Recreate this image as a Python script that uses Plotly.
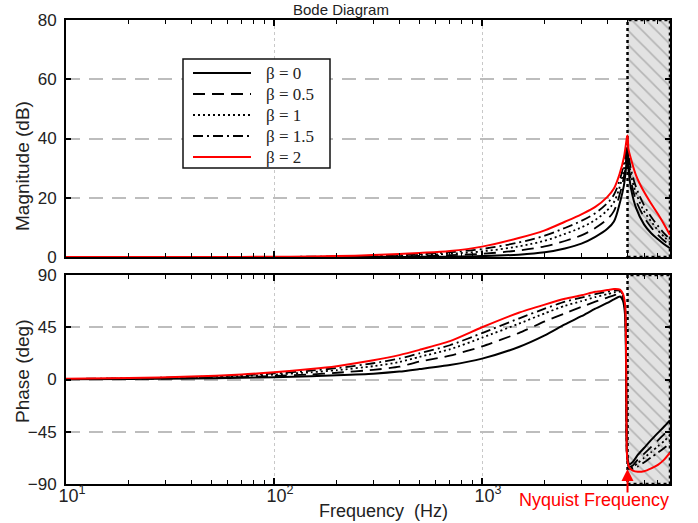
import numpy as np
import plotly.graph_objects as go
from plotly.subplots import make_subplots

# Frequency grids (Hz): below Nyquist, and from Nyquist to the upper plot limit
freq_pre = [10, 20, 40, 70, 100, 150, 200, 300, 400, 500, 700, 1000, 1500, 2000,
            2500, 3000, 3500, 4000, 4300, 4600, 4800, 4900, 4970, 5000]
freq_post = [5000, 5050, 5200, 5500, 6000, 6500, 7000, 7500, 8000]

betas = ["0", "0.5", "1", "1.5", "2"]

# Magnitude (dB) below Nyquist
mag_pre = {
    "0":   [0, 0, 0, 0, 0, 0, 0, 0.02, 0.03, 0.05, 0.1, 0.3, 0.8, 1.6, 2.9, 4.5, 6.8, 9.5, 12, 18.5, 24, 29, 34, 36],
    "0.5": [0, 0, 0, 0, 0, 0.02, 0.05, 0.12, 0.2, 0.35, 0.6, 1.1, 2.2, 3.6, 5.4, 7.3, 9.8, 12.8, 15.5, 21.5, 27, 31.5, 36, 37.5],
    "1":   [0, 0, 0, 0, 0.02, 0.05, 0.1, 0.25, 0.45, 0.7, 1.1, 1.9, 3.6, 5.5, 7.8, 10, 12.5, 15.8, 18.5, 24, 29.5, 33.5, 37.5, 39],
    "1.5": [0, 0, 0, 0.01, 0.04, 0.1, 0.2, 0.45, 0.75, 1.0, 1.6, 2.7, 4.9, 7.2, 9.8, 12.2, 14.8, 18.2, 21, 26.3, 31.5, 35.5, 39, 40],
    "2":   [0, 0, 0.01, 0.03, 0.07, 0.15, 0.3, 0.65, 1.0, 1.35, 2.0, 3.5, 6.4, 9.0, 11.9, 14.4, 16.9, 20.3, 23.1, 28.5, 33.5, 37.5, 40.5, 41],
}
# Magnitude (dB) above Nyquist
mag_post = {
    "0":   [36, 30, 23, 16.5, 11, 8, 6, 4.3, 3],
    "0.5": [37.5, 32, 25.5, 19, 13.5, 10, 7.5, 5.5, 4],
    "1":   [39, 34, 27.5, 21.5, 15.5, 12, 9, 6.8, 5],
    "1.5": [40, 35, 29.5, 23.5, 17.5, 13.5, 10.5, 8, 6],
    "2":   [41, 36.5, 33, 27.5, 22, 18, 14.5, 11, 7.4],
}

# Phase (deg) below Nyquist, up to the top of the drop
phase_freq_pre = [10, 20, 40, 70, 100, 150, 200, 300, 400, 500, 700, 1000, 1500, 2000,
                  2500, 3000, 3500, 4000, 4300, 4600, 4750, 4870]
phase_pre = {
    "0":   [0.2, 0.4, 0.8, 1.4, 2, 2.8, 3.6, 5, 6.8, 9, 12.5, 18, 28, 38, 47.5, 54.5, 61, 66, 69, 71.5, 68, 55],
    "0.5": [0.3, 0.6, 1.2, 2.1, 3, 4.4, 5.8, 8.3, 11, 15.5, 20.5, 28.5, 40, 50, 57, 62.5, 67, 70.5, 72.5, 74, 71, 58],
    "1":   [0.4, 0.8, 1.7, 3, 4.2, 6.2, 8, 11.5, 15, 19.5, 26, 36, 48, 57, 63.5, 67.5, 71, 73.5, 75, 75.5, 72, 60],
    "1.5": [0.5, 1, 2.1, 3.6, 5.2, 7.6, 9.8, 14, 18, 22.5, 29.5, 40, 52.5, 61, 67, 70.5, 73.5, 75.5, 76.5, 76.5, 73, 62],
    "2":   [0.6, 1.2, 2.5, 4.3, 6.3, 9, 11.5, 16.5, 21, 25.5, 33, 45, 57.5, 64.5, 69.5, 72.5, 75.5, 77, 78, 77.5, 74, 64],
}
# Phase (deg) from the bottom of the drop up to the upper plot limit
phase_freq_post = [4960, 5000, 5100, 5300, 5600, 6000, 6500, 7000, 7500, 8000]
phase_post = {
    "0":   [-60, -68, -73, -71, -65, -59, -52, -46, -40.5, -35],
    "0.5": [-62, -70, -75, -74, -69, -64, -58, -52.5, -47, -42],
    "1":   [-62, -70, -76, -75.5, -72, -67.5, -62.5, -57.5, -53, -48],
    "1.5": [-62, -70, -77, -77, -75, -71.5, -67, -63, -59, -55],
    "2":   [-62, -70, -76, -78.5, -79.5, -79, -76.5, -73.5, -69, -63],
}

f_nyq = 5000
f_max = 8000
mag_ticks = [0, 20, 40, 60, 80]
phase_ticks = [-90, -45, 0, 45, 90]
x_tickvals = [10, 100, 1000]
x_ticktext = ["10<sup>1</sup>", "10<sup>2</sup>", "10<sup>3</sup>"]
x_minor_ticks = [20, 30, 40, 50, 60, 70, 80, 90,
                 200, 300, 400, 500, 600, 700, 800, 900,
                 2000, 3000, 4000, 5000, 6000, 7000, 8000]

styles = {
    "0":   dict(color="black", width=2, dash="solid"),
    "0.5": dict(color="black", width=1.8, dash="12px,7px"),
    "1":   dict(color="black", width=1.8, dash="2px,3px"),
    "1.5": dict(color="black", width=1.8, dash="10px,4px,2px,4px"),
    "2":   dict(color="red", width=2, dash="solid"),
}

SANS = "Arial, Liberation Sans, Helvetica, sans-serif"
SERIF = "Times New Roman, Liberation Serif, serif"
TXT = "#222"

H, W = 523, 698
ML, MR, MT, MB = 66, 28, 20, 39
PH = H - MT - MB
PW = W - ML - MR


def px_x(px):
    return (px - ML) / PW


def px_y(py):
    return 1 - (py - MT) / PH


fig = make_subplots(rows=2, cols=1, shared_xaxes=False, vertical_spacing=0.0)

# Hatched band beyond the Nyquist frequency
for row, (y0, y1) in ((1, (0, 80)), (2, (-90, 90))):
    fig.add_trace(go.Scatter(
        x=[f_nyq, f_max, f_max, f_nyq, f_nyq], y=[y0, y0, y1, y1, y0],
        mode="lines", fill="toself",
        fillcolor="#e2e2e2",
        fillpattern=dict(shape="\\", fgcolor="#858585", bgcolor="#e2e2e2",
                         size=10, solidity=0.16),
        line=dict(color="black", width=2.5, dash="dot"),
        showlegend=False, hoverinfo="skip"), row=row, col=1)

for b in betas:
    st = styles[b]
    fig.add_trace(go.Scatter(
        x=freq_pre + freq_post[1:], y=mag_pre[b] + mag_post[b][1:],
        mode="lines", line=st, name=f"β = {b}", showlegend=False,
        line_shape="spline"), row=1, col=1)
    fig.add_trace(go.Scatter(
        x=phase_freq_pre + phase_freq_post, y=phase_pre[b] + phase_post[b],
        mode="lines", line=dict(st, shape="spline", smoothing=0.6),
        name=f"β = {b}", showlegend=False), row=2, col=1)

xaxis_common = dict(
    type="log", range=[1, np.log10(f_max)],
    tickvals=x_tickvals, ticktext=x_ticktext,
    ticks="inside", ticklen=6, tickwidth=1.5, tickcolor="black",
    minor=dict(tickvals=x_minor_ticks, ticks="inside", ticklen=4, tickwidth=1.2,
               tickcolor="black", showgrid=False),
    showline=True, linecolor="black", linewidth=2, mirror="allticks",
    showgrid=True, gridcolor="#c8c8c8", griddash="dot", gridwidth=1,
    zeroline=False, automargin=False,
    tickfont=dict(family=SANS, size=18, color=TXT),
)
fig.update_xaxes(**xaxis_common)
fig.update_xaxes(showticklabels=False, row=1, col=1)
fig.update_xaxes(ticklabelstandoff=-6, ticklabelshift=6, row=2, col=1)

yaxis_common = dict(
    ticks="inside", ticklen=5, tickwidth=1.5, tickcolor="black",
    showline=True, linecolor="black", linewidth=2, mirror="allticks",
    showgrid=True, gridcolor="#bdbdbd", griddash="14px,9px", gridwidth=1.5,
    zeroline=False, ticklabelstandoff=4, automargin=False,
    tickfont=dict(family=SANS, size=17, color=TXT),
)
fig.update_yaxes(**yaxis_common)
fig.update_yaxes(range=[0, 80], tickvals=mag_ticks, row=1, col=1)
fig.update_yaxes(range=[-90, 90], tickvals=phase_ticks, row=2, col=1)

# Legend box: frame, line samples and labels
legend_box = dict(x0=183, x1=330, y0=59, y1=168)
legend_rows = [73, 94, 115, 136, 157]
shapes = [dict(type="rect", xref="paper", yref="paper",
               x0=px_x(legend_box["x0"]), x1=px_x(legend_box["x1"]),
               y0=px_y(legend_box["y1"]), y1=px_y(legend_box["y0"]),
               line=dict(color="#111", width=1.5), fillcolor="white", layer="above")]
annotations = []
for b, row_y in zip(betas, legend_rows):
    st = styles[b]
    shapes.append(dict(type="line", xref="paper", yref="paper",
                       x0=px_x(193), x1=px_x(251), y0=px_y(row_y), y1=px_y(row_y),
                       line=dict(color=st["color"], width=st["width"], dash=st["dash"]),
                       layer="above"))
    annotations.append(dict(text=f"β = {b}", xref="paper", yref="paper",
                            x=px_x(264), y=px_y(row_y), xanchor="left", yanchor="middle",
                            showarrow=False, font=dict(family=SERIF, size=17, color=TXT)))

annotations += [
    dict(text="Bode Diagram", xref="paper", yref="paper", x=px_x(341), y=px_y(10),
         xanchor="center", yanchor="middle", showarrow=False,
         font=dict(family=SANS, size=15, color=TXT)),
    dict(text="Magnitude (dB)", xref="paper", yref="paper", x=px_x(22), y=px_y(166),
         xanchor="center", yanchor="middle", textangle=-90, showarrow=False,
         font=dict(family=SANS, size=19, color=TXT)),
    dict(text="Phase (deg)", xref="paper", yref="paper", x=px_x(22), y=px_y(371),
         xanchor="center", yanchor="middle", textangle=-90, showarrow=False,
         font=dict(family=SANS, size=19, color=TXT)),
    dict(text="Frequency  (Hz)", xref="paper", yref="paper", x=px_x(383), y=px_y(511),
         xanchor="center", yanchor="middle", showarrow=False,
         font=dict(family=SANS, size=18, color=TXT)),
    dict(text="Nyquist Frequency", xref="paper", yref="paper", x=px_x(671), y=px_y(500),
         xanchor="right", yanchor="middle", showarrow=False,
         font=dict(family=SANS, size=18, color="red")),
    dict(text="", xref="x2", yref="y2", x=np.log10(f_nyq), y=-77,
         ax=0, ay=25, showarrow=True, arrowhead=2, arrowsize=1.2,
         arrowwidth=2, arrowcolor="red"),
]

fig.update_layout(
    width=W, height=H,
    margin=dict(l=ML, r=MR, t=MT, b=MB),
    paper_bgcolor="white", plot_bgcolor="white",
    xaxis=dict(domain=[0, 1], anchor="y"),
    yaxis=dict(domain=[px_y(257), 1.0]),
    xaxis2=dict(domain=[0, 1], anchor="y2"),
    yaxis2=dict(domain=[0.0, px_y(275)]),
    showlegend=False,
    shapes=shapes,
    annotations=annotations,
)

fig.write_html("out.html")
